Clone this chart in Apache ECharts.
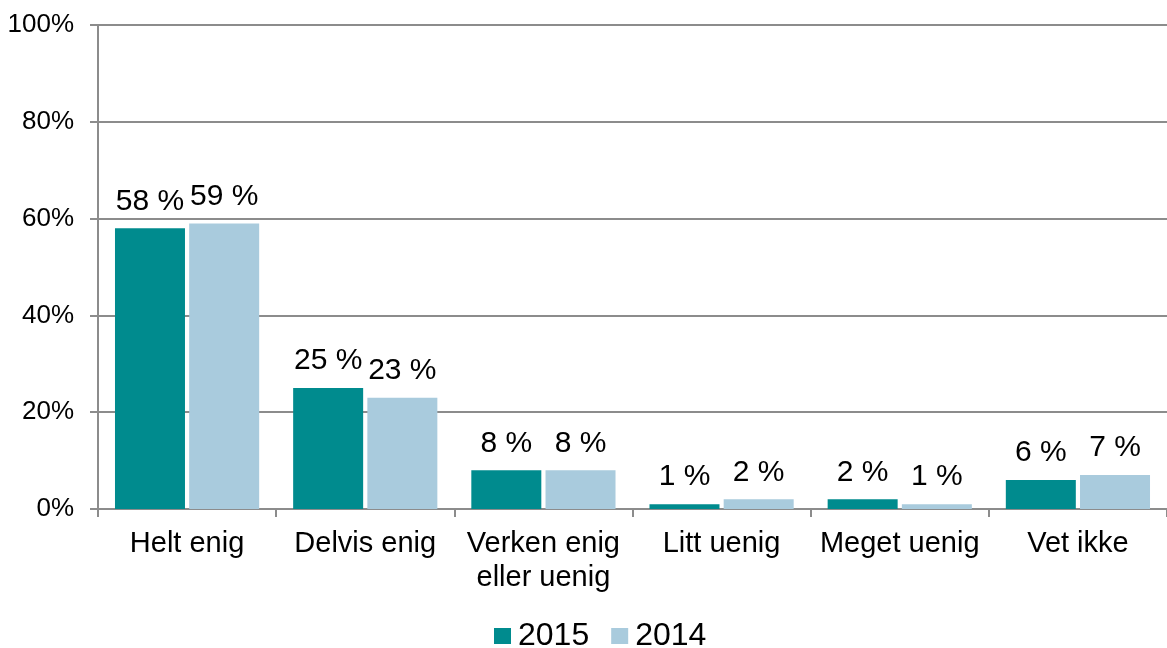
<!DOCTYPE html>
<html>
<head>
<meta charset="utf-8">
<script src="https://cdn.jsdelivr.net/npm/echarts@6/dist/echarts.min.js"></script>
<style>
  html, body { margin: 0; padding: 0; background: #fff; }
  #chart { width: 1167px; height: 648px; }
</style>
</head>
<body>
<div id="chart"></div>
<script>
// Survey answers, share of respondents per answer (percent)
const categories = ['Helt enig', 'Delvis enig', 'Verken enig\neller uenig', 'Litt uenig', 'Meget uenig', 'Vet ikke'];
const values2015 = [58, 25, 8, 1, 2, 6];
const values2014 = [59, 23, 8, 2, 1, 7];
const yTicks = [0, 20, 40, 60, 80, 100];

const FONT = '"Liberation Sans", Arial, sans-serif';
const AXIS_GRAY = '#8c8c8c';

const chart = echarts.init(document.getElementById('chart'), null, { renderer: 'canvas' });

const labelStyle = {
  show: true,
  position: 'top',
  distance: 12,
  fontFamily: FONT,
  fontSize: 30,
  color: '#000',
  formatter: p => p.value + ' %'
};

chart.setOption({
  animation: false,
  backgroundColor: '#fff',
  grid: { left: 98, right: -3, top: 25, bottom: 139, containLabel: false },
  legend: {
    top: 620,
    left: 494,
    itemWidth: 17,
    itemHeight: 16,
    itemGap: 22,
    icon: 'rect',
    padding: 0,
    textStyle: { fontFamily: FONT, fontSize: 32, color: '#000', padding: [0, 0, 0, 2] },
    data: ['2015', '2014']
  },
  xAxis: {
    type: 'category',
    data: categories,
    axisLine: { lineStyle: { color: AXIS_GRAY, width: 2 } },
    axisTick: { show: true, length: 8, lineStyle: { color: AXIS_GRAY, width: 2 } },
    axisLabel: { interval: 0, fontFamily: FONT, fontSize: 29, color: '#000', margin: 18, lineHeight: 34 }
  },
  yAxis: {
    type: 'value',
    min: yTicks[0],
    max: yTicks[yTicks.length - 1],
    interval: 20,
    axisLine: { show: true, lineStyle: { color: AXIS_GRAY, width: 2 } },
    axisTick: { show: true, length: 8, lineStyle: { color: AXIS_GRAY, width: 2 } },
    splitLine: { lineStyle: { color: AXIS_GRAY, width: 2 } },
    axisLabel: { fontFamily: FONT, fontSize: 26, color: '#000', margin: 24, formatter: '{value}%' }
  },
  series: [
    {
      name: '2015',
      type: 'bar',
      data: values2015,
      barWidth: 70,
      barGap: '6%',
      itemStyle: { color: '#008b8e' },
      label: labelStyle
    },
    {
      name: '2014',
      type: 'bar',
      data: values2014,
      barWidth: 70,
      itemStyle: { color: '#a9cbdd' },
      label: labelStyle
    }
  ]
});
</script>
</body>
</html>
